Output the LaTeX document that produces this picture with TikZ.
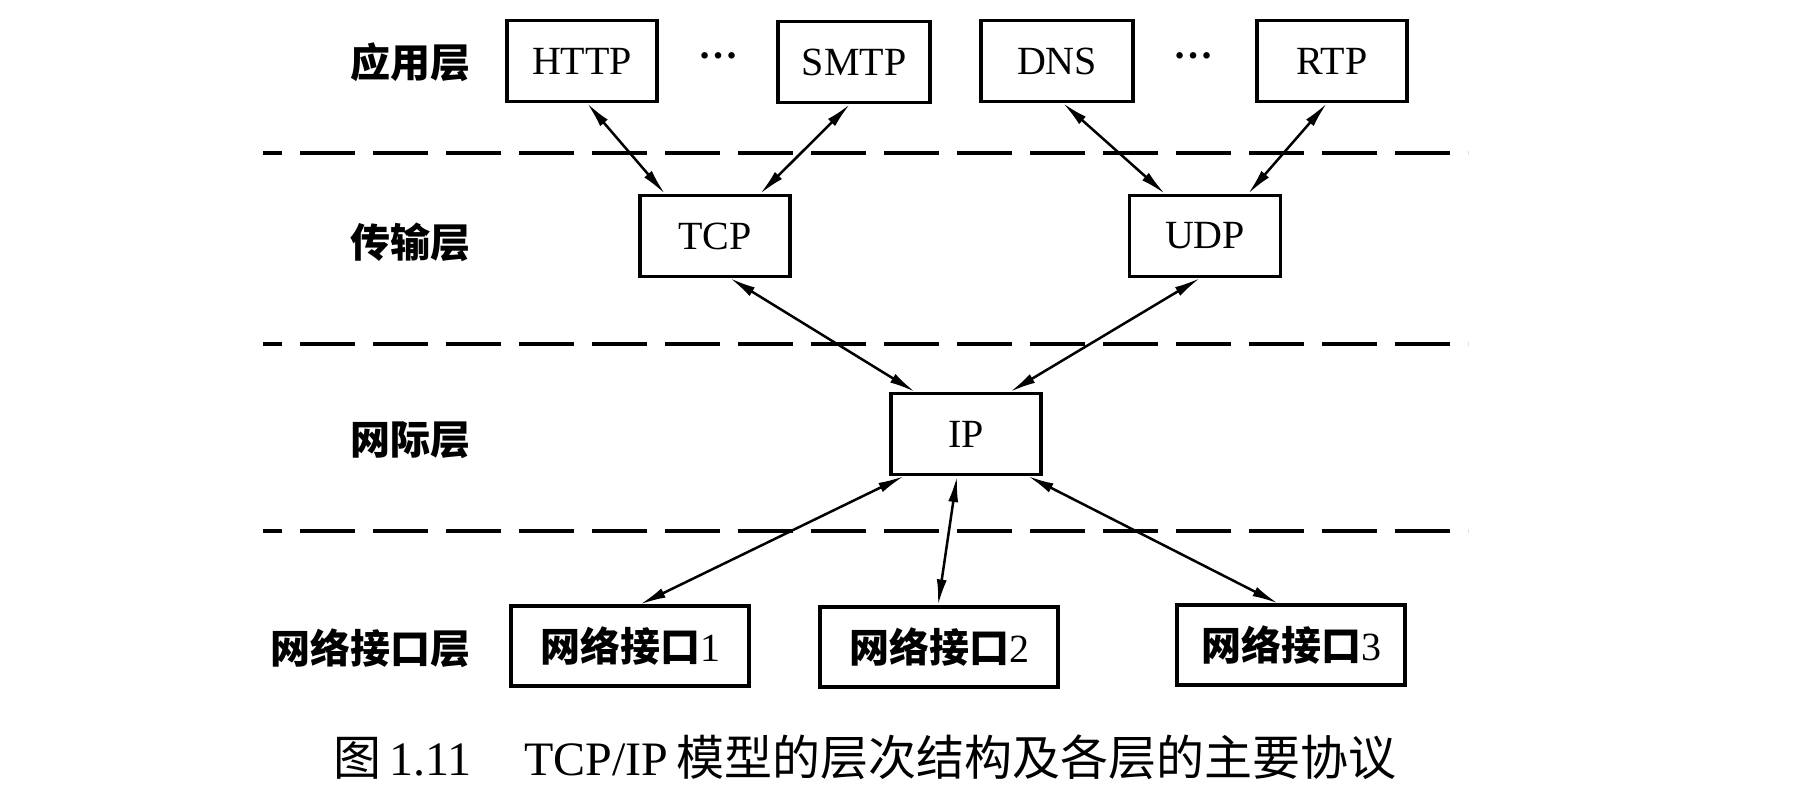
\documentclass[tikz,border=0pt]{standalone}
\usepackage{fontspec}
\setmainfont{Liberation Serif}
\newfontfamily\cjk{Noto Sans CJK SC}
\usetikzlibrary{arrows.meta,calc}
\tikzset{
  pbox/.style={draw, line width=1.6pt, minimum width=#1, minimum height=40.5pt, inner sep=0pt, font=\fontsize{20pt}{22pt}\selectfont},
  lbl/.style={inner sep=0pt, font=\fontsize{20pt}{22pt}\selectfont\cjk\bfseries},
  dotsn/.style={inner sep=0pt, font=\fontsize{20pt}{22pt}\selectfont\bfseries},
  sep/.style={line width=1.8pt, dash pattern=on 27.5pt off 9pt},
  link/.style={line width=1.25pt, {Latex[length=13pt,width=5pt]}-{Latex[length=13pt,width=5pt]}}
}
\begin{document}
\begin{tikzpicture}[x=0.5pt,y=-0.5pt]
\useasboundingbox (0,0) rectangle (1804,810);
% layer labels
\node[lbl, anchor=east] (Lapp) at (471,62) {应用层};
\node[lbl, anchor=east] (Ltra) at (471,242) {传输层};
\node[lbl, anchor=east] (Lnet) at (471,440) {网际层};
\node[lbl, anchor=east] (Lif) at (471,648) {网络接口层};
% separators
\coordinate (d1a) at (263,153); \coordinate (d1b) at (1468,153);
\coordinate (d2a) at (263,344); \coordinate (d2b) at (1468,344);
\coordinate (d3a) at (263,531); \coordinate (d3b) at (1468,531);
\draw[sep, dash phase=18pt] (d1a) -- (d1b);
\draw[sep, dash phase=18pt] (d2a) -- (d2b);
\draw[sep, dash phase=18pt] (d3a) -- (d3b);
% application layer
\node[pbox=75pt] (HTTP) at (582,61) {HTTP};
\node[dotsn] (dots1) at (718,56) {…};
\node[pbox=76pt] (SMTP) at (854,62) {SMTP};
\node[pbox=76pt] (DNS) at (1057,61) {DNS};
\node[dotsn] (dots2) at (1193,56) {…};
\node[pbox=75pt] (RTP) at (1332,61) {RTP};
% transport layer
\node[pbox=75pt] (TCP) at (715,236) {TCP};
\node[pbox=75.5pt] (UDP) at (1205,236) {UDP};
% internet layer
\node[pbox=75pt] (IP) at (966,434) {IP};
% network interface layer
\node[pbox=119pt, minimum height=40pt] (NI1) at (630,646) {{\cjk\bfseries 网络接口}1};
\node[pbox=119pt, minimum height=40pt] (NI2) at (939,647) {{\cjk\bfseries 网络接口}2};
\node[pbox=114pt, minimum height=40pt] (NI3) at (1291,645) {{\cjk\bfseries 网络接口}3};
% connectors
\draw[link] ($(HTTP.south)+(5,0)$) -- ($(TCP.north)+(-50,0)$);
\draw[link] ($(SMTP.south)+(-4,0)$) -- ($(TCP.north)+(45,0)$);
\draw[link] ($(DNS.south)+(6,0)$) -- ($(UDP.north)+(-40,0)$);
\draw[link] ($(RTP.south)+(-5,0)$) -- ($(UDP.north)+(43,0)$);
\draw[link] ($(TCP.south)+(15,0)$) -- ($(IP.north)+(-51,0)$);
\draw[link] ($(UDP.south)+(-5,0)$) -- ($(IP.north)+(44,0)$);
\draw[link] ($(IP.south)+(-62,0)$) -- ($(NI1.north)+(10,0)$);
\draw[link] ($(IP.south)+(-9,0)$) -- ($(NI2.north)+(-1,0)$);
\draw[link] ($(IP.south)+(62,0)$) -- ($(NI3.north)+(-13,0)$);
% caption
\node[anchor=west, inner sep=0pt, font=\fontsize{24pt}{26pt}\selectfont] (cap) at (333,757)
  {{\cjk 图}\,1.11\hspace{1.1em}TCP/IP\,{\cjk 模型的层次结构及各层的主要协议}};
\end{tikzpicture}
\end{document}
